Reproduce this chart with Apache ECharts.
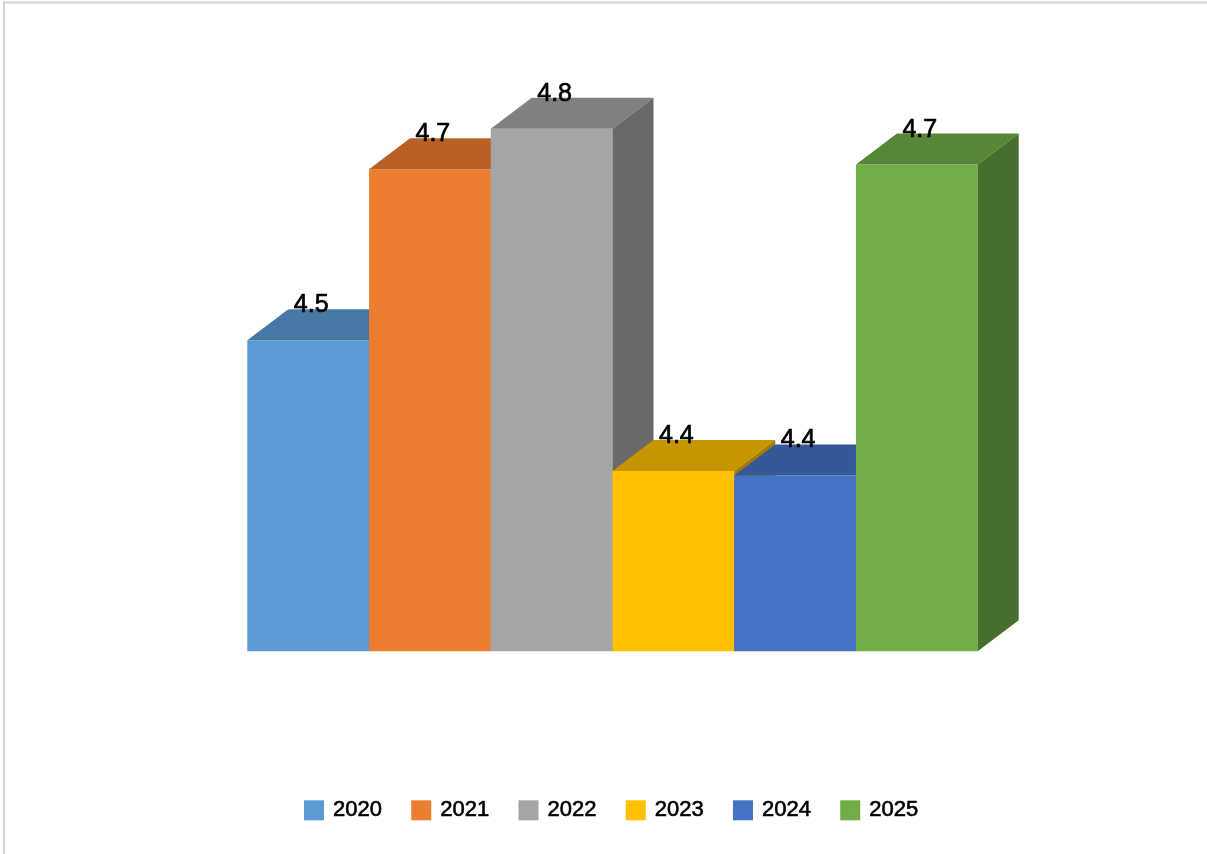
<!DOCTYPE html>
<html>
<head>
<meta charset="utf-8">
<title>3D column chart 2020–2025</title>
<script src="https://cdn.jsdelivr.net/npm/echarts@6/dist/echarts.min.js"></script>
<style>
  html, body { margin: 0; padding: 0; background: #ffffff; }
  #chart { width: 1207px; height: 854px; }
</style>
</head>
<body>
<div id="chart"></div>
<script>
// Years shown, one column each
const years = ['2020', '2021', '2022', '2023', '2024', '2025'];
// Column values (labels show them rounded to one decimal)
const values = [4.538, 4.724, 4.768, 4.396, 4.391, 4.729];
// Front-face colours of the columns
const colors = ['#5B9BD5', '#ED7D31', '#A5A5A5', '#FFC000', '#4472C4', '#70AD47'];
// Value axis range
const axisMin = 4.2;
const axisMax = 4.8;

// Depth offset of the pseudo-3D box (right, up)
const DX = 41, DY = 31;

function shade(hex, f) {
  const n = parseInt(hex.slice(1), 16);
  const r = Math.round(((n >> 16) & 255) * f);
  const g = Math.round(((n >> 8) & 255) * f);
  const b = Math.round((n & 255) * f);
  return 'rgb(' + r + ',' + g + ',' + b + ')';
}

function makeRender(idx) {
  return function (params, api) {
    const cat = api.value(0);
    const val = api.value(1);
    const top = api.coord([cat, val]);
    const base = api.coord([cat, axisMin]);
    const w = api.size([1, 0])[0];
    const x0 = top[0] - w / 2, x1 = top[0] + w / 2;
    const yT = top[1], yB = base[1];
    const c = colors[idx];
    return {
      type: 'group',
      children: [
        { type: 'rect', z2: idx,
          shape: { x: x0, y: yT, width: w, height: yB - yT },
          style: { fill: c } },
        { type: 'polygon', z2: idx,
          shape: { points: [[x0, yT], [x1, yT], [x1 + DX, yT - DY], [x0 + DX, yT - DY]] },
          style: { fill: shade(c, 0.776) } },
        { type: 'polygon', z2: idx,
          shape: { points: [[x1, yT], [x1 + DX, yT - DY], [x1 + DX, yB - DY], [x1, yB]] },
          style: { fill: shade(c, 0.636) } },
        { type: 'text', z2: 100,
          style: {
            x: top[0] + 3, y: yT - DY - 4,
            text: val.toFixed(1),
            fill: '#000000',
            stroke: '#000000', lineWidth: 0.7,
            font: '25px "Liberation Sans", Arial, sans-serif',
            align: 'center', verticalAlign: 'middle'
          } }
      ]
    };
  };
}

const chart = echarts.init(document.getElementById('chart'), null, { renderer: 'canvas' });

chart.setOption({
  animation: false,
  backgroundColor: '#ffffff',
  grid: { left: 247.3, right: 229.3, top: 99.3, bottom: 202.7 },
  xAxis: {
    type: 'category', data: years, show: false, boundaryGap: true
  },
  yAxis: {
    type: 'value', min: axisMin, max: axisMax, show: false
  },
  legend: {
    left: 299, top: 794,
    icon: 'rect', itemWidth: 20, itemHeight: 20, itemGap: 29,
    textStyle: {
      fontFamily: '"Liberation Sans", Arial, sans-serif',
      fontSize: 22, color: '#000000', padding: [0, 0, 0, 4],
      textBorderColor: '#000000', textBorderWidth: 0.6
    },
    data: years
  },
  graphic: [
    { type: 'rect', silent: true, shape: { x: 3, y: 1, width: 1204, height: 3 }, style: { fill: '#e0e0e0' } },
    { type: 'rect', silent: true, shape: { x: 3, y: 1, width: 2, height: 853 }, style: { fill: '#d6d6d6' } }
  ],
  series: years.map(function (y, i) {
    return {
      type: 'custom',
      name: y,
      itemStyle: { color: colors[i] },
      renderItem: makeRender(i),
      encode: { x: 0, y: 1 },
      data: [[i, values[i]]]
    };
  })
});
</script>
</body>
</html>
